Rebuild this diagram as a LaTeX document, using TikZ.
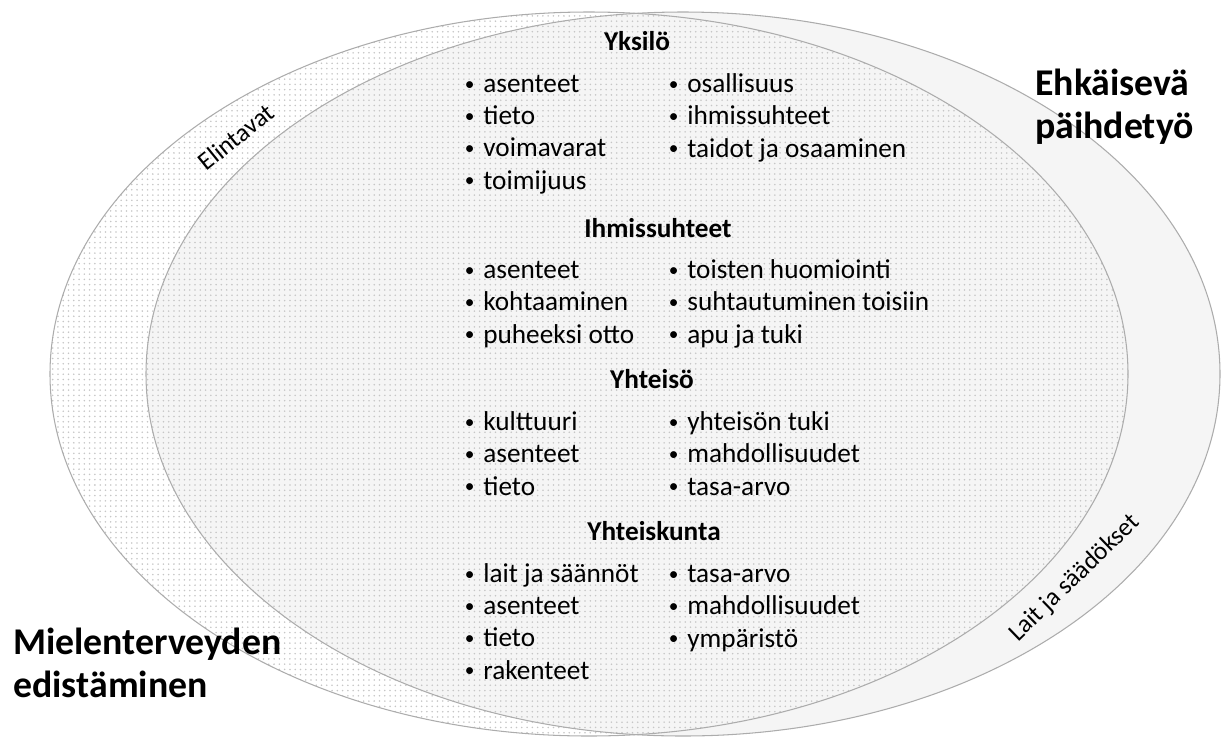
\documentclass[tikz,border=0pt]{standalone}
\usepackage{fontspec}
\setmainfont{Carlito}
\usetikzlibrary{patterns}

\tikzset{
  heading/.style={font=\bfseries\fontsize{15.5}{18.3}\selectfont, anchor=base, inner sep=0pt},
  itemcol/.style={font=\fontsize{15.5}{18.3}\selectfont, align=left, anchor=base west, inner sep=0pt},
  bandlabel/.style={font=\fontsize{14.5}{17}\selectfont, inner sep=0pt},
  bigtitle/.style={font=\bfseries\fontsize{21.5}{24.2}\selectfont, align=left, anchor=base west, inner sep=0pt},
  rim/.style={draw=gray!65, line width=.6pt}
}
\newcommand{\itm}{\llap{\raisebox{1.3pt}{\fontsize{11}{11}\selectfont\textbullet}\hspace{5pt}}}

\begin{document}
\begin{tikzpicture}
\begin{scope}[x=0.02cm, y=-0.02cm]
\useasboundingbox (0,0) rectangle (1221,738);
% the two fields
\fill[gray!8] (683,374) ellipse [x radius=537, y radius=362];
\fill[pattern=dots, pattern color=gray!45] (589,374) ellipse [x radius=539, y radius=362];
\draw[rim] (683,374) ellipse [x radius=537, y radius=362];
\draw[rim] (589,374) ellipse [x radius=539, y radius=362];

\node[bandlabel, rotate=39] (elintavat) at (236,137) {Elintavat};
\node[bandlabel, rotate=44] (lait) at (1075,578) {Lait ja säädökset};

% base = last line
\node[bigtitle] (ehkaisy) at (1035,138) {Ehkäisevä\\päihdetyö};
\node[bigtitle] (mielenterveys) at (13,697) {Mielenterveyden\\edistäminen};

% Yksilö
\node[heading] (yksilo) at (637,50) {Yksilö};
\node[itemcol] (yksiloA) at (483,189) {\itm asenteet\\\itm tieto\\\itm voimavarat\\\itm toimijuus};
\node[itemcol] (yksiloB) at (687,157) {\itm osallisuus\\\itm ihmissuhteet\\\itm taidot ja osaaminen};

% Ihmissuhteet
\node[heading] (suhteet) at (658,237) {Ihmissuhteet};
\node[itemcol] (suhteetA) at (483,343) {\itm asenteet\\\itm kohtaaminen\\\itm puheeksi otto};
\node[itemcol] (suhteetB) at (687,343) {\itm toisten huomiointi\\\itm suhtautuminen toisiin\\\itm apu ja tuki};

% Yhteisö
\node[heading] (yhteiso) at (652,388) {Yhteisö};
\node[itemcol] (yhteisoA) at (483,495) {\itm kulttuuri\\\itm asenteet\\\itm tieto};
\node[itemcol] (yhteisoB) at (687,495) {\itm yhteisön tuki\\\itm mahdollisuudet\\\itm tasa-arvo};

% Yhteiskunta
\node[heading] (kunta) at (654,540) {Yhteiskunta};
\node[itemcol] (kuntaA) at (483,679) {\itm lait ja säännöt\\\itm asenteet\\\itm tieto\\\itm rakenteet};
\node[itemcol] (kuntaB) at (687,647) {\itm tasa-arvo\\\itm mahdollisuudet\\\itm ympäristö};
\end{scope}
\end{tikzpicture}
\end{document}
